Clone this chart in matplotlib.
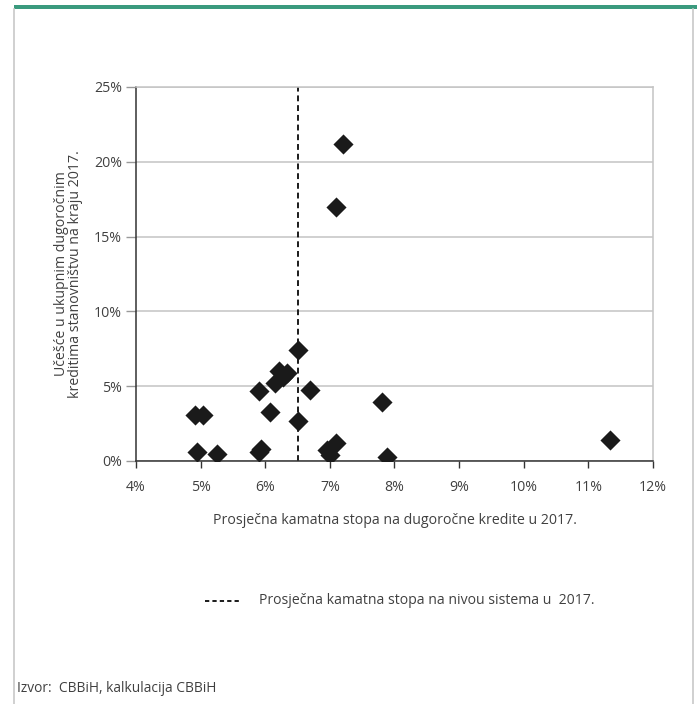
import matplotlib.pyplot as plt
from matplotlib.lines import Line2D
from matplotlib.patches import Rectangle
from matplotlib.ticker import FuncFormatter

plt.rcParams['font.family'] = ['Open Sans', 'DejaVu Sans']

# average long-term interest rate per bank (%) and share in household loans (%)
rate = [7.21, 7.09, 6.51, 6.22, 6.34, 6.28, 6.15, 5.90, 6.69, 7.80, 4.91, 5.03,
        6.07, 6.51, 4.94, 5.25, 5.93, 5.91, 6.95, 7.10, 7.00, 7.88, 11.33]
share = [21.2, 17.0, 7.4, 6.0, 5.85, 5.6, 5.2, 4.7, 4.75, 3.95, 3.07, 3.07,
         3.3, 2.7, 0.62, 0.47, 0.78, 0.62, 0.74, 1.18, 0.40, 0.29, 1.4]
system_rate = 6.5

xticks = [4, 5, 6, 7, 8, 9, 10, 11, 12]
yticks = [0, 5, 10, 15, 20, 25]

txt = '#404040'

fig = plt.figure(figsize=(6.97, 7.04), dpi=100)

# frame of the box
fig.add_artist(Rectangle((14/697, 1-9/704), 1-14/697, 4/704, transform=fig.transFigure,
                         color='#3a9a7e', lw=0))
fig.add_artist(Line2D([14/697, 14/697], [0, 1-9/704], transform=fig.transFigure,
                      color='#c8c8c8', lw=1.2))
fig.add_artist(Line2D([693/697, 693/697], [0, 1-9/704], transform=fig.transFigure,
                      color='#c8c8c8', lw=1.2))

ax = fig.add_axes([136/697, 1-461/704, (653-136)/697, (461-87)/704])
ax.scatter(rate, share, marker='D', s=105, color='#1a1a1a', zorder=3, linewidths=0)
ax.axvline(system_rate, color='#1a1a1a', ls=(0, (3, 2)), lw=1.4, zorder=2)

ax.set_xlim(4, 12)
ax.set_ylim(0, 25)
ax.set_xticks(xticks)
ax.set_yticks(yticks)
ax.xaxis.set_major_formatter(FuncFormatter(lambda v, p: '%d%%' % v))
ax.yaxis.set_major_formatter(FuncFormatter(lambda v, p: '%d%%' % v))
ax.tick_params(axis='x', direction='out', length=5, width=1, color='#333333',
               labelcolor=txt, labelsize=10.2, pad=9)
ax.tick_params(axis='y', direction='out', length=7, width=1, color='#999999',
               labelcolor=txt, labelsize=10.2, pad=3)
ax.grid(axis='y', color='#c4c4c4', lw=1.1)
ax.set_axisbelow(True)

ax.spines['left'].set_color('#333333')
ax.spines['bottom'].set_color('#333333')
ax.spines['top'].set_color('#c4c4c4')
ax.spines['right'].set_color('#c4c4c4')
for s in ax.spines.values():
    s.set_linewidth(1.1)

ax.set_xlabel('Prosječna kamatna stopa na dugoročne kredite u 2017.', color=txt,
              fontsize=10.2, labelpad=13)
ax.set_ylabel('Učešće u ukupnim dugoročnim\nkreditima stanovništvu na kraju 2017.',
              color=txt, fontsize=10.2, labelpad=8, linespacing=0.9)

# legend
fig.add_artist(Line2D([205/697, 240/697], [1-601/704, 1-601/704], transform=fig.transFigure,
                      color='#1a1a1a', ls=(0, (2.2, 1.6)), lw=1.4))
fig.text(259/697, 1-601/704, 'Prosječna kamatna stopa na nivou sistema u  2017.',
         color=txt, fontsize=10.1, va='center', ha='left')

fig.text(17/697, 1-688/704, 'Izvor:  CBBiH, kalkulacija CBBiH', color=txt,
         fontsize=9.9, va='center', ha='left')

fig.savefig('out.png', dpi=100)
